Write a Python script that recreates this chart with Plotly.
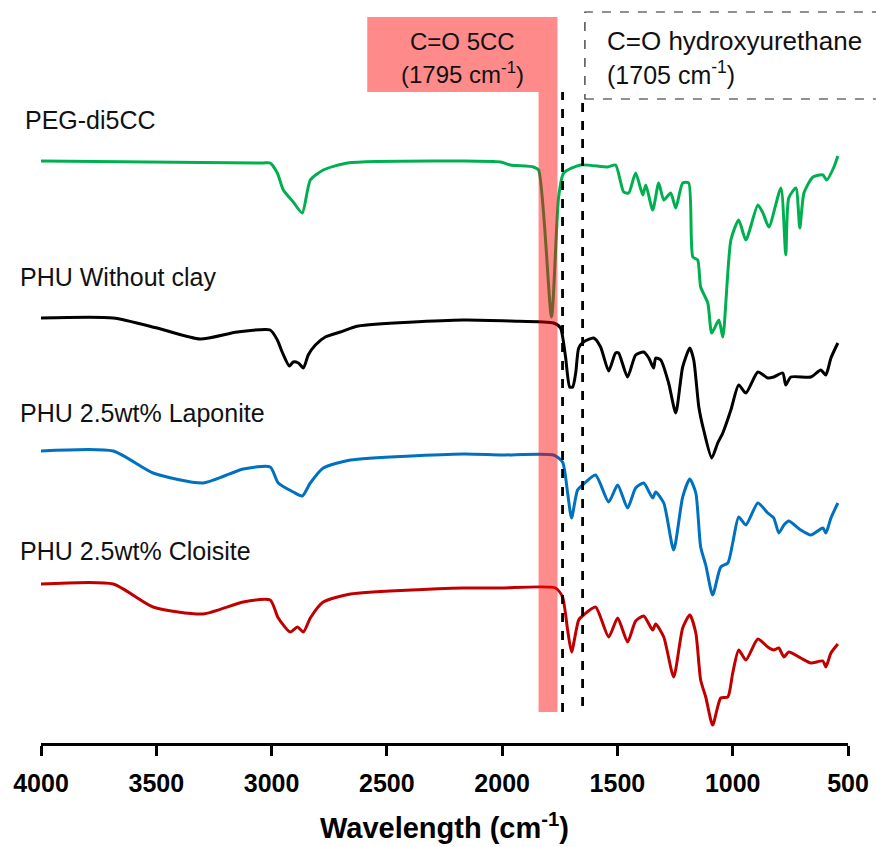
import plotly.graph_objects as go

# ---------------- data (wavenumber in cm-1, offset transmittance in a.u.) ----------------
wn_peg = [4000, 3036, 3006, 2975, 2949, 2906, 2867, 2832, 2776, 2671, 2168, 2007, 1964, 1864,
          1842, 1786, 1755, 1733, 1660, 1542, 1508, 1473, 1451, 1421, 1390, 1377, 1347, 1321,
          1299, 1269, 1247, 1217, 1191, 1173, 1152, 1139, 1108, 1091, 1060, 1043, 1008, 974,
          943, 891, 869, 843, 791, 770, 757, 726, 709, 691, 652, 609, 592, 561, 544]
t_peg = [581, 579, 579, 569, 552, 540, 529, 562, 572, 579, 581, 580, 577, 575,
         572, 425, 545, 569, 577, 575, 577, 550, 549, 569, 547, 557, 532, 559,
         542, 549, 534, 559, 559, 485, 482, 455, 439, 409, 422, 405, 502, 522,
         502, 537, 529, 515, 554, 487, 544, 554, 514, 549, 565, 567, 562, 575, 586]

wn_phu = [4000, 3687, 3496, 3310, 3149, 3006, 2975, 2954, 2923, 2906, 2884, 2862, 2841, 2810,
          2767, 2702, 2624, 2168, 1964, 1777, 1747, 1725, 1707, 1694, 1681, 1668, 1647, 1603,
          1573, 1538, 1508, 1495, 1456, 1421, 1386, 1364, 1343, 1334, 1312, 1278, 1247, 1217,
          1186, 1169, 1147, 1126, 1091, 1065, 1043, 1008, 974, 943, 891, 848, 822, 783, 770,
          748, 661, 618, 596, 574, 544]
t_phu = [424, 424, 414, 403, 410, 412, 402, 390, 376, 380, 379, 374, 387, 397,
         405, 410, 416, 422, 421, 419, 414, 385, 355, 355, 369, 394, 400, 404,
         395, 371, 389, 389, 365, 387, 390, 384, 374, 384, 382, 359, 329, 375,
         394, 382, 335, 312, 284, 299, 309, 332, 357, 349, 370, 364, 365, 369, 357,
         365, 365, 372, 367, 384, 399]

wn_lap = [4000, 3687, 3514, 3297, 3123, 3006, 2971, 2906, 2867, 2832, 2776, 2658, 2168, 2007,
          1777, 1738, 1716, 1699, 1673, 1651, 1595, 1538, 1499, 1456, 1421, 1386, 1347, 1334,
          1299, 1256, 1217, 1186, 1160, 1139, 1117, 1087, 1052, 1021, 1000, 974, 943, 891,
          848, 822, 800, 778, 757, 705, 661, 609, 596, 574, 544]
t_lap = [291, 291, 269, 259, 273, 275, 259, 250, 246, 259, 274, 282, 288, 287,
         287, 280, 249, 224, 252, 257, 267, 240, 257, 234, 254, 259, 244, 250,
         239, 192, 245, 263, 249, 195, 177, 147, 175, 179, 199, 225, 217, 239,
         229, 224, 209, 217, 221, 212, 207, 214, 209, 224, 239]

wn_clo = [4000, 3687, 3514, 3297, 3123, 3006, 2971, 2919, 2888, 2862, 2832, 2776, 2658, 2168,
          2007, 1768, 1738, 1716, 1699, 1668, 1647, 1595, 1538, 1499, 1456, 1421, 1386, 1347,
          1334, 1299, 1256, 1217, 1186, 1160, 1139, 1117, 1087, 1052, 1021, 1000, 974, 943,
          891, 848, 822, 800, 778, 757, 705, 661, 609, 596, 574, 544]
t_clo = [158, 158, 135, 128, 140, 142, 124, 110, 115, 110, 124, 140, 148, 154,
         154, 154, 145, 112, 90, 122, 127, 135, 105, 124, 100, 121, 126, 112,
         118, 105, 65, 114, 127, 109, 62, 45, 17, 44, 45, 69, 92, 82,
         103, 95, 92, 94, 85, 90, 84, 79, 81, 75, 89, 98]

series_names = ["PEG-di5CC", "PHU Without clay", "PHU 2.5wt% Laponite", "PHU 2.5wt% Cloisite"]
series_colors = ["#00B050", "#000000", "#0070C0", "#C00000"]
series_x = [wn_peg, wn_phu, wn_lap, wn_clo]
series_y = [t_peg, t_phu, t_lap, t_clo]
label_y = [622, 465, 329, 191]
label_x = [-0.0223, -0.0285, -0.0285, -0.0285]

tick_vals = [4000, 3500, 3000, 2500, 2000, 1500, 1000, 500]

FONT = "Liberation Sans, Arial, sans-serif"

fig = go.Figure()
for name, col, xs, ys in zip(series_names, series_colors, series_x, series_y):
    fig.add_trace(go.Scatter(x=xs, y=ys, mode="lines", name=name,
                             line=dict(color=col, width=3, shape="spline", smoothing=0.6),
                             showlegend=False, hoverinfo="skip"))

# series labels
for name, lx, ly in zip(series_names, label_x, label_y):
    fig.add_annotation(x=lx, xref="paper", y=ly, yref="y", text=name, showarrow=False,
                       xanchor="left", yanchor="middle",
                       font=dict(family=FONT, size=25, color="#111111"))

shapes = []
# red header box
shapes.append(dict(type="rect", xref="x", yref="y", x0=2585, x1=1760, y0=650, y1=725,
                   fillcolor="rgb(255,138,138)", line=dict(width=0), layer="below"))
# translucent band at 1795
shapes.append(dict(type="rect", xref="x", yref="y", x0=1842, x1=1760, y0=30, y1=650,
                   fillcolor="rgba(255,0,0,0.45)", line=dict(width=0), layer="above"))
# dashed vertical lines
shapes.append(dict(type="line", xref="x", yref="y", x0=1738, x1=1738, y0=30, y1=650,
                   line=dict(color="black", width=2.8, dash="dash"), layer="above"))
shapes.append(dict(type="line", xref="x", yref="y", x0=1651, x1=1651, y0=36, y1=645,
                   line=dict(color="black", width=2.8, dash="dash"), layer="above"))
# dashed header box
shapes.append(dict(type="rect", xref="paper", yref="y", x0=0.674, x1=1.06, y0=643, y1=730,
                   fillcolor="rgba(0,0,0,0)", line=dict(color="#222222", width=1.2, dash="dash"),
                   layer="above"))
fig.update_layout(shapes=shapes)

fig.add_annotation(x=2172, xref="x", y=701, yref="y", text="C=O 5CC", showarrow=False,
                   xanchor="center", yanchor="middle", font=dict(family=FONT, size=24, color="#111111"))
fig.add_annotation(x=2172, xref="x", y=669, yref="y", text="(1795 cm<sup>-1</sup>)", showarrow=False,
                   xanchor="center", yanchor="middle", font=dict(family=FONT, size=24, color="#111111"))
fig.add_annotation(x=0.699, xref="paper", y=701, yref="y", text="C=O hydroxyurethane", showarrow=False,
                   xanchor="left", yanchor="middle", font=dict(family=FONT, size=26, color="#111111"))
fig.add_annotation(x=0.699, xref="paper", y=669, yref="y", text="(1705 cm<sup>-1</sup>)", showarrow=False,
                   xanchor="left", yanchor="middle", font=dict(family=FONT, size=25, color="#111111"))

fig.update_xaxes(range=[4000, 500], tickvals=tick_vals, ticktext=[str(v) for v in tick_vals],
                 showline=True, linecolor="black", linewidth=3, ticks="outside", ticklen=10,
                 tickwidth=3, tickcolor="black", showgrid=False, zeroline=False,
                 ticklabelstandoff=6,
                 tickfont=dict(family=FONT, size=25, color="black", weight="bold"),
                 title=dict(text="<b>Wavelength (cm<sup>-1</sup>)</b>", standoff=22,
                            font=dict(family=FONT, size=29, color="black")))
fig.update_yaxes(range=[-1, 742], visible=False, showgrid=False, zeroline=False)

fig.update_layout(width=876, height=847, margin=dict(l=41, r=28, t=0, b=104),
                  plot_bgcolor="white", paper_bgcolor="white", showlegend=False)

fig.write_html("out.html", config={"displayModeBar": False})
